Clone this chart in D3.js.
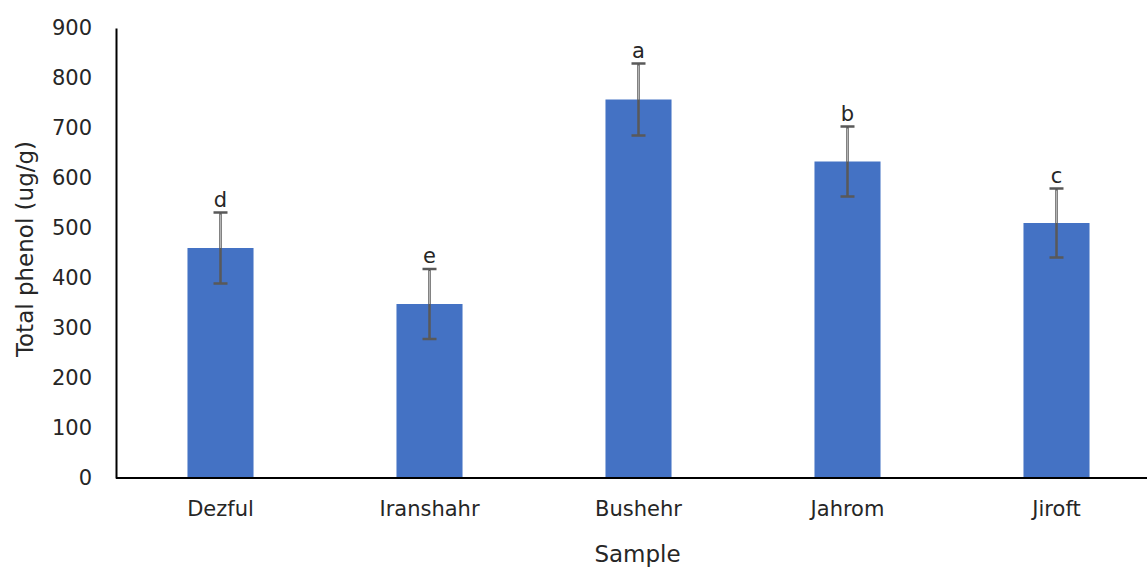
<!DOCTYPE html>
<html>
<head>
<meta charset="utf-8">
<script src="https://cdn.jsdelivr.net/npm/d3@7"></script>
<style>
  html, body { margin: 0; padding: 0; background: #fff; }
  svg { display: block; }
</style>
</head>
<body>
<svg id="chart" width="1147" height="569"></svg>
<script>
const categories = ["Dezful", "Iranshahr", "Bushehr", "Jahrom", "Jiroft"];
const values = [460, 348, 757, 633, 510];
const errors = [71, 70, 72, 70, 69];
const letters = ["d", "e", "a", "b", "c"];
const yTicks = [0, 100, 200, 300, 400, 500, 600, 700, 800, 900];
const yTitle = "Total phenol (ug/g)";
const xTitle = "Sample";

const W = 1147, H = 569;
const plotLeft = 116, plotRight = 1161, plotTop = 28, plotBottom = 478;
const font = "'DejaVu Sans', sans-serif";
const textColor = "#262626";

const svg = d3.select("#chart");

const x = d3.scaleBand().domain(categories).range([plotLeft, plotRight])
  .paddingInner(0.684).paddingOuter(0.342);
const y = d3.scaleLinear().domain([0, 900]).range([plotBottom, plotTop]);

// bars
svg.append("g").selectAll("rect").data(categories).join("rect")
  .attr("x", d => x(d))
  .attr("y", (d, i) => y(values[i]))
  .attr("width", x.bandwidth())
  .attr("height", (d, i) => y(0) - y(values[i]))
  .attr("fill", "#4472C4");

// error bars
const eg = svg.append("g");
categories.forEach((c, i) => {
  const cx = x(c) + x.bandwidth() / 2;
  const hi = y(values[i] + errors[i]);
  const lo = y(values[i] - errors[i]);
  eg.append("line").attr("x1", cx).attr("x2", cx).attr("y1", lo).attr("y2", hi)
    .attr("stroke", "#595959").attr("stroke-width", 2.5);
  eg.append("line").attr("x1", cx).attr("x2", cx).attr("y1", y(values[i])).attr("y2", hi + 2)
    .attr("stroke", "#b4b4b4").attr("stroke-width", 1);
  [hi, lo].forEach(yy => {
    eg.append("line").attr("x1", cx - 7).attr("x2", cx + 7).attr("y1", yy).attr("y2", yy)
      .attr("stroke", "#595959").attr("stroke-width", 2.5);
  });
  eg.append("text").attr("x", cx).attr("y", hi - 6)
    .attr("text-anchor", "middle")
    .attr("font-family", font).attr("font-size", 21).attr("fill", textColor)
    .text(letters[i]);
});

// y axis
const yAxis = svg.append("g").attr("transform", `translate(${plotLeft},0)`)
  .call(d3.axisLeft(y).tickValues(yTicks).tickSize(0).tickPadding(24));
yAxis.select(".domain").attr("stroke", "#000").attr("stroke-width", 2);
yAxis.selectAll("text").attr("font-family", font).attr("font-size", 21).attr("fill", textColor);

// x axis
const xAxis = svg.append("g").attr("transform", `translate(0,${plotBottom})`)
  .call(d3.axisBottom(x).tickSize(0).tickPadding(23));
xAxis.select(".domain").attr("d", `M${plotLeft},0H${W}`).attr("stroke", "#000").attr("stroke-width", 2);
xAxis.selectAll("text").attr("font-family", font).attr("font-size", 21).attr("fill", textColor);

// titles
svg.append("text").attr("x", (plotLeft + W) / 2 + 6).attr("y", 562)
  .attr("text-anchor", "middle").attr("font-family", font).attr("font-size", 23)
  .attr("fill", textColor).text(xTitle);
svg.append("text").attr("transform", "translate(33,249) rotate(-90)")
  .attr("text-anchor", "middle").attr("font-family", font).attr("font-size", 23)
  .attr("fill", textColor).text(yTitle);
</script>
</body>
</html>
